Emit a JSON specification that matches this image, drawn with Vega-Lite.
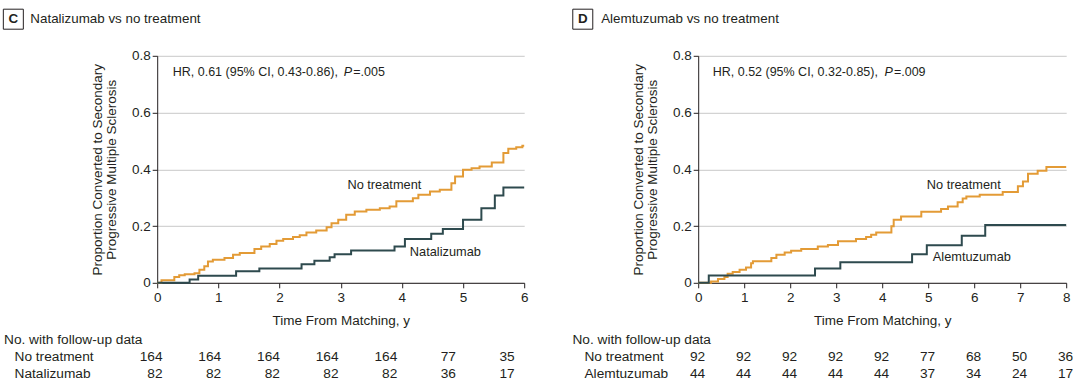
{
 "$schema": "https://vega.github.io/schema/vega-lite/v6.json",
 "padding": {"left": 1.2, "top": 6.8, "right": 0, "bottom": 0},
 "background": "white",
 "config": {
  "font": "Liberation Sans",
  "view": {"stroke": null},
  "text": {"color": "#231f20", "font": "Liberation Sans"},
  "axis": {"domainColor": "#231f20", "tickColor": "#231f20", "labelColor": "#231f20", "titleColor": "#231f20", "labelFont": "Liberation Sans", "titleFont": "Liberation Sans", "labelFontSize": 13.5, "titleFontSize": 13.5, "titleFontWeight": "normal", "tickSize": 5, "gridColor": "#c8c8c8", "gridWidth": 1, "domainWidth": 1, "tickWidth": 1, "labelOverlap": false},
  "axisX": {"labelPadding": 3, "titlePadding": 9, "labelFlush": false},
  "axisY": {"labelPadding": 2, "titlePadding": 13, "titleLineHeight": 14}
 },
 "datasets": {
  "km": [
   {"panel":"C","group":"No treatment","t":0,"p":0},{"panel":"C","group":"No treatment","t":0.07,"p":0.009},{"panel":"C","group":"No treatment","t":0.28,"p":0.02},{"panel":"C","group":"No treatment","t":0.36,"p":0.027},{"panel":"C","group":"No treatment","t":0.45,"p":0.03},{"panel":"C","group":"No treatment","t":0.61,"p":0.034},{"panel":"C","group":"No treatment","t":0.69,"p":0.046},{"panel":"C","group":"No treatment","t":0.77,"p":0.058},{"panel":"C","group":"No treatment","t":0.83,"p":0.075},{"panel":"C","group":"No treatment","t":0.91,"p":0.081},{"panel":"C","group":"No treatment","t":1.1,"p":0.087},{"panel":"C","group":"No treatment","t":1.24,"p":0.099},{"panel":"C","group":"No treatment","t":1.35,"p":0.105},{"panel":"C","group":"No treatment","t":1.59,"p":0.119},{"panel":"C","group":"No treatment","t":1.7,"p":0.128},{"panel":"C","group":"No treatment","t":1.84,"p":0.137},{"panel":"C","group":"No treatment","t":1.95,"p":0.148},{"panel":"C","group":"No treatment","t":2.06,"p":0.154},{"panel":"C","group":"No treatment","t":2.22,"p":0.161},{"panel":"C","group":"No treatment","t":2.33,"p":0.168},{"panel":"C","group":"No treatment","t":2.44,"p":0.177},{"panel":"C","group":"No treatment","t":2.6,"p":0.184},{"panel":"C","group":"No treatment","t":2.77,"p":0.196},{"panel":"C","group":"No treatment","t":2.85,"p":0.21},{"panel":"C","group":"No treatment","t":2.96,"p":0.222},{"panel":"C","group":"No treatment","t":3.09,"p":0.24},{"panel":"C","group":"No treatment","t":3.23,"p":0.251},{"panel":"C","group":"No treatment","t":3.42,"p":0.257},{"panel":"C","group":"No treatment","t":3.64,"p":0.263},{"panel":"C","group":"No treatment","t":3.8,"p":0.269},{"panel":"C","group":"No treatment","t":3.91,"p":0.287},{"panel":"C","group":"No treatment","t":4.18,"p":0.298},{"panel":"C","group":"No treatment","t":4.27,"p":0.31},{"panel":"C","group":"No treatment","t":4.46,"p":0.322},{"panel":"C","group":"No treatment","t":4.62,"p":0.328},{"panel":"C","group":"No treatment","t":4.81,"p":0.351},{"panel":"C","group":"No treatment","t":4.87,"p":0.375},{"panel":"C","group":"No treatment","t":5.0,"p":0.398},{"panel":"C","group":"No treatment","t":5.14,"p":0.404},{"panel":"C","group":"No treatment","t":5.27,"p":0.41},{"panel":"C","group":"No treatment","t":5.47,"p":0.424},{"panel":"C","group":"No treatment","t":5.66,"p":0.457},{"panel":"C","group":"No treatment","t":5.74,"p":0.472},{"panel":"C","group":"No treatment","t":5.87,"p":0.478},{"panel":"C","group":"No treatment","t":5.97,"p":0.483},{"panel":"C","group":"No treatment","t":6.0,"p":0.483},
   {"panel":"C","group":"Natalizumab","t":0,"p":0},{"panel":"C","group":"Natalizumab","t":0.53,"p":0.012},{"panel":"C","group":"Natalizumab","t":0.67,"p":0.025},{"panel":"C","group":"Natalizumab","t":1.29,"p":0.041},{"panel":"C","group":"Natalizumab","t":1.67,"p":0.05},{"panel":"C","group":"Natalizumab","t":2.36,"p":0.065},{"panel":"C","group":"Natalizumab","t":2.57,"p":0.078},{"panel":"C","group":"Natalizumab","t":2.82,"p":0.09},{"panel":"C","group":"Natalizumab","t":2.9,"p":0.101},{"panel":"C","group":"Natalizumab","t":3.17,"p":0.114},{"panel":"C","group":"Natalizumab","t":3.88,"p":0.128},{"panel":"C","group":"Natalizumab","t":4.05,"p":0.154},{"panel":"C","group":"Natalizumab","t":4.48,"p":0.173},{"panel":"C","group":"Natalizumab","t":4.67,"p":0.19},{"panel":"C","group":"Natalizumab","t":5.0,"p":0.222},{"panel":"C","group":"Natalizumab","t":5.3,"p":0.263},{"panel":"C","group":"Natalizumab","t":5.52,"p":0.308},{"panel":"C","group":"Natalizumab","t":5.66,"p":0.336},{"panel":"C","group":"Natalizumab","t":6.0,"p":0.336},
   {"panel":"D","group":"No treatment","t":0,"p":0},{"panel":"D","group":"No treatment","t":0.28,"p":0.005},{"panel":"D","group":"No treatment","t":0.43,"p":0.013},{"panel":"D","group":"No treatment","t":0.57,"p":0.02},{"panel":"D","group":"No treatment","t":0.64,"p":0.032},{"panel":"D","group":"No treatment","t":0.75,"p":0.038},{"panel":"D","group":"No treatment","t":0.9,"p":0.046},{"panel":"D","group":"No treatment","t":1.04,"p":0.054},{"panel":"D","group":"No treatment","t":1.15,"p":0.069},{"panel":"D","group":"No treatment","t":1.19,"p":0.076},{"panel":"D","group":"No treatment","t":1.59,"p":0.087},{"panel":"D","group":"No treatment","t":1.7,"p":0.099},{"panel":"D","group":"No treatment","t":1.88,"p":0.107},{"panel":"D","group":"No treatment","t":2.02,"p":0.113},{"panel":"D","group":"No treatment","t":2.24,"p":0.119},{"panel":"D","group":"No treatment","t":2.6,"p":0.128},{"panel":"D","group":"No treatment","t":2.82,"p":0.133},{"panel":"D","group":"No treatment","t":3.04,"p":0.146},{"panel":"D","group":"No treatment","t":3.43,"p":0.154},{"panel":"D","group":"No treatment","t":3.65,"p":0.161},{"panel":"D","group":"No treatment","t":3.76,"p":0.169},{"panel":"D","group":"No treatment","t":3.87,"p":0.177},{"panel":"D","group":"No treatment","t":4.2,"p":0.199},{"panel":"D","group":"No treatment","t":4.25,"p":0.222},{"panel":"D","group":"No treatment","t":4.41,"p":0.234},{"panel":"D","group":"No treatment","t":4.85,"p":0.25},{"panel":"D","group":"No treatment","t":5.28,"p":0.26},{"panel":"D","group":"No treatment","t":5.43,"p":0.269},{"panel":"D","group":"No treatment","t":5.64,"p":0.284},{"panel":"D","group":"No treatment","t":5.75,"p":0.297},{"panel":"D","group":"No treatment","t":5.83,"p":0.304},{"panel":"D","group":"No treatment","t":6.12,"p":0.31},{"panel":"D","group":"No treatment","t":6.62,"p":0.32},{"panel":"D","group":"No treatment","t":6.95,"p":0.34},{"panel":"D","group":"No treatment","t":7.06,"p":0.357},{"panel":"D","group":"No treatment","t":7.17,"p":0.384},{"panel":"D","group":"No treatment","t":7.38,"p":0.395},{"panel":"D","group":"No treatment","t":7.57,"p":0.408},{"panel":"D","group":"No treatment","t":8.0,"p":0.408},
   {"panel":"D","group":"Alemtuzumab","t":0,"p":0},{"panel":"D","group":"Alemtuzumab","t":0.23,"p":0.026},{"panel":"D","group":"Alemtuzumab","t":2.54,"p":0.05},{"panel":"D","group":"Alemtuzumab","t":3.09,"p":0.072},{"panel":"D","group":"Alemtuzumab","t":4.65,"p":0.101},{"panel":"D","group":"Alemtuzumab","t":4.97,"p":0.132},{"panel":"D","group":"Alemtuzumab","t":5.73,"p":0.166},{"panel":"D","group":"Alemtuzumab","t":6.24,"p":0.204},{"panel":"D","group":"Alemtuzumab","t":8.0,"p":0.204}
  ],
  "risk": [
   {"panel":"C","row":"r1","t":0,"n":164},{"panel":"C","row":"r1","t":1,"n":164},{"panel":"C","row":"r1","t":2,"n":164},{"panel":"C","row":"r1","t":3,"n":164},{"panel":"C","row":"r1","t":4,"n":164},{"panel":"C","row":"r1","t":5,"n":77},{"panel":"C","row":"r1","t":6,"n":35},
   {"panel":"C","row":"r2","t":0,"n":82},{"panel":"C","row":"r2","t":1,"n":82},{"panel":"C","row":"r2","t":2,"n":82},{"panel":"C","row":"r2","t":3,"n":82},{"panel":"C","row":"r2","t":4,"n":82},{"panel":"C","row":"r2","t":5,"n":36},{"panel":"C","row":"r2","t":6,"n":17},
   {"panel":"D","row":"r1","t":0,"n":92},{"panel":"D","row":"r1","t":1,"n":92},{"panel":"D","row":"r1","t":2,"n":92},{"panel":"D","row":"r1","t":3,"n":92},{"panel":"D","row":"r1","t":4,"n":92},{"panel":"D","row":"r1","t":5,"n":77},{"panel":"D","row":"r1","t":6,"n":68},{"panel":"D","row":"r1","t":7,"n":50},{"panel":"D","row":"r1","t":8,"n":36},
   {"panel":"D","row":"r2","t":0,"n":44},{"panel":"D","row":"r2","t":1,"n":44},{"panel":"D","row":"r2","t":2,"n":44},{"panel":"D","row":"r2","t":3,"n":44},{"panel":"D","row":"r2","t":4,"n":44},{"panel":"D","row":"r2","t":5,"n":37},{"panel":"D","row":"r2","t":6,"n":34},{"panel":"D","row":"r2","t":7,"n":24},{"panel":"D","row":"r2","t":8,"n":17}
  ],
  "rowlabels": [
   {"panel":"C","row":"r1","label":"No treatment"},{"panel":"C","row":"r2","label":"Natalizumab"},
   {"panel":"D","row":"r1","label":"No treatment"},{"panel":"D","row":"r2","label":"Alemtuzumab"}
  ]
 },
 "columns": 2,
 "spacing": {"row": 49, "column": 173},
 "bounds": "flush",
 "align": "all",
 "concat": [
  {
   "width": 367, "height": 227,
   "layer": [
    {"data": {"name": "km"}, "transform": [{"filter": "datum.panel === 'C'"}],
     "mark": {"type": "line", "interpolate": "step-after", "strokeWidth": 2},
     "encoding": {
      "x": {"field": "t", "type": "quantitative", "scale": {"domain": [0, 6], "nice": false, "zero": false}, "axis": {"values": [0,1,2,3,4,5,6], "format": "d", "title": "Time From Matching, y", "grid": false}},
      "y": {"field": "p", "type": "quantitative", "scale": {"domain": [0, 0.8], "nice": false}, "axis": {"values": [0,0.2,0.4,0.6,0.8], "labelExpr": "datum.value === 0 ? '0' : format(datum.value, '.1f')", "title": ["Proportion Converted to Secondary", "Progressive Multiple Sclerosis"], "grid": true}},
      "color": {"field": "group", "type": "nominal", "scale": {"domain": ["No treatment", "Natalizumab", "Alemtuzumab"], "range": ["#E39B36", "#2E4A4E", "#2E4A4E"]}, "legend": null}
     }},
    {"data": {"values": [{"s": "C"}]}, "mark": {"type": "point", "shape": "square", "size": 400, "filled": false, "color": "#231f20", "strokeWidth": 1, "opacity": 1}, "encoding": {"x": {"datum": -2.352}, "y": {"datum": 0.929}}},
    {"data": {"values": [{"s": "C"}]}, "mark": {"type": "text", "fontSize": 13.4, "fontWeight": "bold", "align": "center", "baseline": "middle"}, "encoding": {"x": {"datum": -2.352}, "y": {"datum": 0.929}, "text": {"field": "s"}}},
    {"data": {"values": [{"s": "Natalizumab vs no treatment"}]}, "mark": {"type": "text", "fontSize": 13.4, "align": "left", "baseline": "middle"}, "encoding": {"x": {"datum": -2.074}, "y": {"datum": 0.929}, "text": {"field": "s"}}},
    {"data": {"values": [{"s": "HR, 0.61 (95% CI, 0.43-0.86),"}]}, "mark": {"type": "text", "fontSize": 12.5, "align": "left", "baseline": "middle"}, "encoding": {"x": {"datum": 0.255}, "y": {"datum": 0.7436}, "text": {"field": "s"}}},
    {"data": {"values": [{"s": "P"}]}, "mark": {"type": "text", "fontSize": 12.5, "fontStyle": "italic", "align": "left", "baseline": "middle"}, "encoding": {"x": {"datum": 3.05}, "y": {"datum": 0.7436}, "text": {"field": "s"}}},
    {"data": {"values": [{"s": "=.005"}]}, "mark": {"type": "text", "fontSize": 12.5, "align": "left", "baseline": "middle"}, "encoding": {"x": {"datum": 3.205}, "y": {"datum": 0.7436}, "text": {"field": "s"}}},
    {"data": {"values": [{"s": "No treatment"}]}, "mark": {"type": "text", "fontSize": 12.8, "align": "left", "baseline": "middle"}, "encoding": {"x": {"datum": 3.11}, "y": {"datum": 0.343}, "text": {"field": "s"}}},
    {"data": {"values": [{"s": "Natalizumab"}]}, "mark": {"type": "text", "fontSize": 12.8, "align": "left", "baseline": "middle"}, "encoding": {"x": {"datum": 4.13}, "y": {"datum": 0.108}, "text": {"field": "s"}}}
   ]
  },
  {
   "width": 368, "height": 227,
   "layer": [
    {"data": {"name": "km"}, "transform": [{"filter": "datum.panel === 'D'"}],
     "mark": {"type": "line", "interpolate": "step-after", "strokeWidth": 2},
     "encoding": {
      "x": {"field": "t", "type": "quantitative", "scale": {"domain": [0, 8], "nice": false, "zero": false}, "axis": {"values": [0,1,2,3,4,5,6,7,8], "format": "d", "title": "Time From Matching, y", "grid": false}},
      "y": {"field": "p", "type": "quantitative", "scale": {"domain": [0, 0.8], "nice": false}, "axis": {"values": [0,0.2,0.4,0.6,0.8], "labelExpr": "datum.value === 0 ? '0' : format(datum.value, '.1f')", "title": ["Proportion Converted to Secondary", "Progressive Multiple Sclerosis"], "grid": true}},
      "color": {"field": "group", "type": "nominal", "scale": {"domain": ["No treatment", "Natalizumab", "Alemtuzumab"], "range": ["#E39B36", "#2E4A4E", "#2E4A4E"]}, "legend": null}
     }},
    {"data": {"values": [{"s": "D"}]}, "mark": {"type": "point", "shape": "square", "size": 400, "filled": false, "color": "#231f20", "strokeWidth": 1, "opacity": 1}, "encoding": {"x": {"datum": -2.509}, "y": {"datum": 0.929}}},
    {"data": {"values": [{"s": "D"}]}, "mark": {"type": "text", "fontSize": 13.4, "fontWeight": "bold", "align": "center", "baseline": "middle"}, "encoding": {"x": {"datum": -2.509}, "y": {"datum": 0.929}, "text": {"field": "s"}}},
    {"data": {"values": [{"s": "Alemtuzumab vs no treatment"}]}, "mark": {"type": "text", "fontSize": 13.4, "align": "left", "baseline": "middle"}, "encoding": {"x": {"datum": -2.109}, "y": {"datum": 0.929}, "text": {"field": "s"}}},
    {"data": {"values": [{"s": "HR, 0.52 (95% CI, 0.32-0.85),"}]}, "mark": {"type": "text", "fontSize": 12.5, "align": "left", "baseline": "middle"}, "encoding": {"x": {"datum": 0.317}, "y": {"datum": 0.7436}, "text": {"field": "s"}}},
    {"data": {"values": [{"s": "P"}]}, "mark": {"type": "text", "fontSize": 12.5, "fontStyle": "italic", "align": "left", "baseline": "middle"}, "encoding": {"x": {"datum": 4.05}, "y": {"datum": 0.7436}, "text": {"field": "s"}}},
    {"data": {"values": [{"s": "=.009"}]}, "mark": {"type": "text", "fontSize": 12.5, "align": "left", "baseline": "middle"}, "encoding": {"x": {"datum": 4.256}, "y": {"datum": 0.7436}, "text": {"field": "s"}}},
    {"data": {"values": [{"s": "No treatment"}]}, "mark": {"type": "text", "fontSize": 12.8, "align": "left", "baseline": "middle"}, "encoding": {"x": {"datum": 4.97}, "y": {"datum": 0.344}, "text": {"field": "s"}}},
    {"data": {"values": [{"s": "Alemtuzumab"}]}, "mark": {"type": "text", "fontSize": 12.8, "align": "left", "baseline": "middle"}, "encoding": {"x": {"datum": 5.1}, "y": {"datum": 0.09}, "text": {"field": "s"}}}
   ]
  },
  {
   "width": 367, "height": 51,
   "layer": [
    {"data": {"name": "risk"}, "transform": [{"filter": "datum.panel === 'C'"}],
     "mark": {"type": "text", "fontSize": 13.7, "align": "right", "baseline": "middle"},
     "encoding": {
      "x": {"field": "t", "type": "quantitative", "scale": {"domain": [0, 6], "range": [5.3, 357.5], "nice": false, "zero": false}, "axis": null},
      "y": {"field": "row", "type": "nominal", "scale": {"domain": ["h", "r1", "r2"]}, "axis": null},
      "text": {"field": "n"}
     }},
    {"data": {"name": "rowlabels"}, "transform": [{"filter": "datum.panel === 'C'"}],
     "mark": {"type": "text", "fontSize": 13.7, "align": "left", "baseline": "middle"},
     "encoding": {"x": {"datum": -2.521}, "y": {"field": "row", "type": "nominal"}, "text": {"field": "label"}}},
    {"data": {"values": [{"row": "h", "label": "No. with follow-up data"}]},
     "mark": {"type": "text", "fontSize": 13.7, "align": "left", "baseline": "middle"},
     "encoding": {"x": {"datum": -2.70}, "y": {"field": "row", "type": "nominal"}, "text": {"field": "label"}}}
   ]
  },
  {
   "width": 368, "height": 51,
   "layer": [
    {"data": {"name": "risk"}, "transform": [{"filter": "datum.panel === 'D'"}],
     "mark": {"type": "text", "fontSize": 13.7, "align": "right", "baseline": "middle"},
     "encoding": {
      "x": {"field": "t", "type": "quantitative", "scale": {"domain": [0, 8], "range": [7, 375], "nice": false, "zero": false}, "axis": null},
      "y": {"field": "row", "type": "nominal", "scale": {"domain": ["h", "r1", "r2"]}, "axis": null},
      "text": {"field": "n"}
     }},
    {"data": {"name": "rowlabels"}, "transform": [{"filter": "datum.panel === 'D'"}],
     "mark": {"type": "text", "fontSize": 13.7, "align": "left", "baseline": "middle"},
     "encoding": {"x": {"datum": -2.624}, "y": {"field": "row", "type": "nominal"}, "text": {"field": "label"}}},
    {"data": {"values": [{"row": "h", "label": "No. with follow-up data"}]},
     "mark": {"type": "text", "fontSize": 13.7, "align": "left", "baseline": "middle"},
     "encoding": {"x": {"datum": -2.885}, "y": {"field": "row", "type": "nominal"}, "text": {"field": "label"}}}
   ]
  }
 ]
}
